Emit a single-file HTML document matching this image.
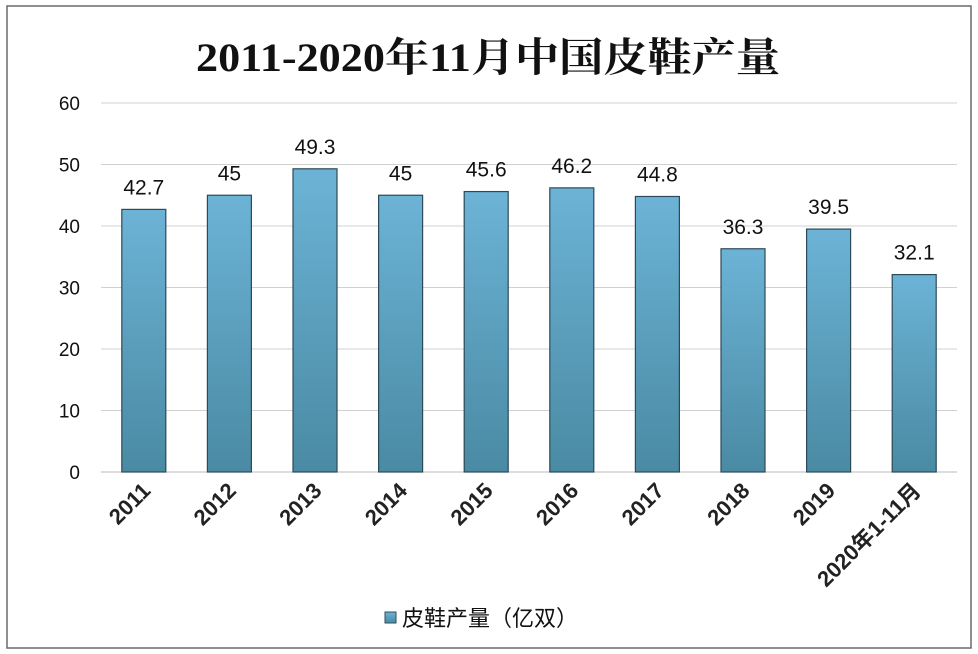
<!DOCTYPE html>
<html><head><meta charset="utf-8"><style>
html,body{margin:0;padding:0;background:#fff;}
svg{display:block;}
</style></head><body>
<svg id="chart" width="978" height="654" viewBox="0 0 978 654" xmlns="http://www.w3.org/2000/svg">
<defs>
<linearGradient id="barGrad" x1="0" y1="0" x2="0" y2="1">
<stop offset="0" stop-color="#6cb3d6"/>
<stop offset="1" stop-color="#4a8aa3"/>
</linearGradient>
</defs>
<rect x="7" y="6" width="964" height="642" fill="#fff" stroke="#6a6a6a" stroke-width="1.5"/>
<text x="196" y="71" textLength="584" lengthAdjust="spacingAndGlyphs" font-family="'Liberation Serif','Noto Serif CJK SC',serif" font-weight="bold" font-size="40" fill="#111">2011-2020年11月中国皮鞋产量</text>
<g id="grid"></g>
<g id="bars"></g>
<g id="xlabels"></g>
<g>
<rect x="385" y="612" width="11" height="11" fill="url(#barGrad)" stroke="#2f4f5f" stroke-width="1"/>
<text x="402" y="626" font-family="'Liberation Sans','Noto Sans CJK SC',sans-serif" font-size="22" fill="#111">皮鞋产量（亿双）</text>
</g>
</svg>
<script>
const categories = ["2011","2012","2013","2014","2015","2016","2017","2018","2019","2020年1-11月"];
const values = [42.7,45,49.3,45,45.6,46.2,44.8,36.3,39.5,32.1];
const valueLabels = ["42.7","45","49.3","45","45.6","46.2","44.8","36.3","39.5","32.1"];
const yTicks = [0,10,20,30,40,50,60];

const NS = "http://www.w3.org/2000/svg";
const plotL = 101, plotR = 957, y0 = 472, yTop = 103, yMax = 60;
const band = (plotR - plotL) / categories.length;
function yScale(v){ return y0 - (v / yMax) * (y0 - yTop); }
function xCenter(i){ return plotL + band * (i + 0.5); }
const barW = 44;
const font = "'Liberation Sans','Noto Sans CJK SC',sans-serif";

const grid = document.getElementById('grid');
yTicks.forEach(t => {
  const y = yScale(t);
  const l = document.createElementNS(NS,'line');
  
  
  l.setAttribute('x1', plotL); l.setAttribute('x2', plotR);
  l.setAttribute('y1', y); l.setAttribute('y2', y);
  l.setAttribute('stroke', t === 0 ? '#bbb' : '#d0d0d0'); l.setAttribute('stroke-width', '1');
  grid.appendChild(l);
  const tx = document.createElementNS(NS,'text');
  
  
  tx.setAttribute('x', 80); tx.setAttribute('y', y + 7);
  tx.setAttribute('text-anchor', 'end');
  tx.setAttribute('font-family', font); tx.setAttribute('font-size', '19'); tx.setAttribute('fill', '#111');
  tx.textContent = t;
  grid.appendChild(tx);
});

const bars = document.getElementById('bars');
const xl = document.getElementById('xlabels');
values.forEach((v, i) => {
  const cx = xCenter(i), y = yScale(v);
  const r = document.createElementNS(NS,'rect');
  
  
  r.setAttribute('x', cx - barW/2); r.setAttribute('y', y);
  r.setAttribute('width', barW); r.setAttribute('height', y0 - y);
  r.setAttribute('fill', 'url(#barGrad)'); r.setAttribute('stroke', '#2c4a58'); r.setAttribute('stroke-width', '1.2');
  bars.appendChild(r);
  const lb = document.createElementNS(NS,'text');
  
  
  lb.setAttribute('x', cx); lb.setAttribute('y', y - 15);
  lb.setAttribute('text-anchor', 'middle');
  lb.setAttribute('font-family', font); lb.setAttribute('font-size', '21'); lb.setAttribute('fill', '#111');
  lb.textContent = valueLabels[i];
  bars.appendChild(lb);
  const xt = document.createElementNS(NS,'text');
  
  
  xt.setAttribute('x', cx + 8); xt.setAttribute('y', 492);
  xt.setAttribute('text-anchor', 'end');
  xt.setAttribute('transform', 'rotate(-45 ' + (cx + 8) + ' 492)');
  xt.setAttribute('font-family', font); xt.setAttribute('font-size', '22'); xt.setAttribute('font-weight', 'bold'); xt.setAttribute('fill', '#222');
  xt.textContent = categories[i];
  xl.appendChild(xt);
});
</script>
</body></html>
